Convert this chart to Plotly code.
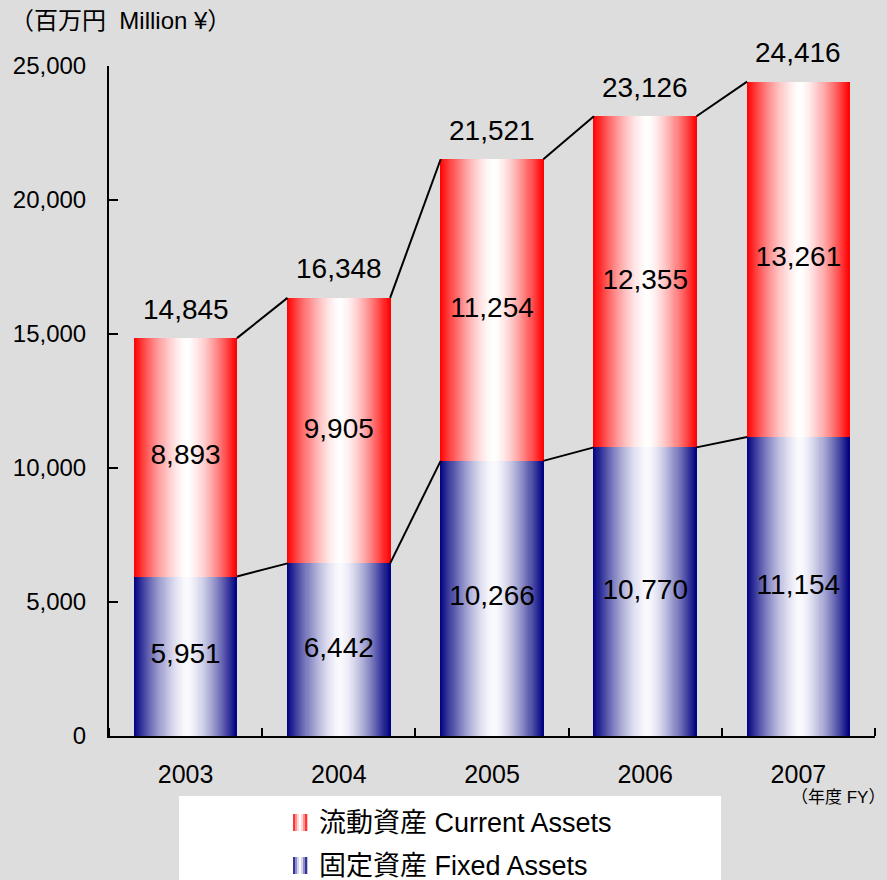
import plotly.graph_objects as go

# --- data ---
YEARS = ["2003", "2004", "2005", "2006", "2007"]
FIXED = [5951, 6442, 10266, 10770, 11154]        # 固定資産 Fixed Assets
CURRENT = [8893, 9905, 11254, 12355, 13261]      # 流動資産 Current Assets
TOTAL = [14845, 16348, 21521, 23126, 24416]
Y_TICKS = [0, 5000, 10000, 15000, 20000, 25000]

FONT = "Liberation Sans, Arial, Noto Sans CJK JP, sans-serif"
BG = "#dddddd"
W, H = 887, 880
L, R, T, B = 109, 12, 66, 144
PW, PH = W - L - R, H - T - B
BW = 0.67          # bar width in category units
N = 100            # gradient slices per bar

NAVY = (0, 0, 128)
RED = (255, 0, 0)
WHITE_N = (250, 250, 254)
WHITE_R = (255, 255, 255)


def mix(c, w, white):
    return "rgb(%d,%d,%d)" % tuple(round(a + (b - a) * w) for a, b in zip(c, white))


def whiteness(t, mid=0.52):
    d = abs(t - mid) / (mid if t < mid else 1 - mid)
    return max(0.0, 1 - d ** 1.5)


def px_x(p):
    return (p - L) / PW


def px_y(p):
    return (H - B - p) / PH


fig = go.Figure()
xs = list(range(len(YEARS)))

# stacked bars as vertical slices to get the horizontal gradient
d = BW / N
for k in range(N):
    t = (k + 0.5) / N
    w = whiteness(t)
    width = d * 1.6 if k < N - 1 else d
    fig.add_trace(go.Bar(
        x=xs + xs, y=FIXED + CURRENT, base=[0] * len(FIXED) + FIXED,
        width=width, offset=-BW / 2 + k * d,
        marker=dict(color=[mix(NAVY, w, WHITE_N)] * len(FIXED) + [mix(RED, w, WHITE_R)] * len(CURRENT),
                    line=dict(width=0)),
        hoverinfo="skip", showlegend=False))


# connector lines between bar corners
def connector(vals):
    lx, ly = [], []
    for i in range(len(vals) - 1):
        lx += [i + BW / 2, i + 1 - BW / 2, None]
        ly += [vals[i], vals[i + 1], None]
    return lx, ly


for vals in (TOTAL, FIXED):
    lx, ly = connector(vals)
    fig.add_trace(go.Scatter(x=lx, y=ly, mode="lines", line=dict(color="black", width=2),
                             hoverinfo="skip", showlegend=False))

fmt = lambda v: f"{v:,}"
lab_font = dict(family=FONT, size=28, color="black")
fig.add_trace(go.Scatter(
    x=xs, y=[f / 2 for f in FIXED], mode="text", text=[fmt(v) for v in FIXED],
    textfont=lab_font, showlegend=False, cliponaxis=False,
    hovertemplate="固定資産 Fixed Assets<br>%{text}<extra></extra>"))
fig.add_trace(go.Scatter(
    x=xs, y=[f + c / 2 for f, c in zip(FIXED, CURRENT)], mode="text", text=[fmt(v) for v in CURRENT],
    textfont=lab_font, showlegend=False, cliponaxis=False,
    hovertemplate="流動資産 Current Assets<br>%{text}<extra></extra>"))
for x, v in zip(xs, TOTAL):
    fig.add_annotation(x=x, y=v, text=fmt(v), showarrow=False, yanchor="middle", yshift=29,
                       font=lab_font)

fig.update_layout(
    width=W, height=H, margin=dict(l=L, r=R, t=T, b=B),
    paper_bgcolor=BG, plot_bgcolor=BG, barmode="overlay", bargap=0,
    font=dict(family=FONT, color="black"),
    title=dict(text="（百万円  Million ¥）", font=dict(size=24, color="black"),
               xref="container", x=10 / W, xanchor="left", yref="container", y=1 - 21 / H, yanchor="middle"),
)
fig.update_xaxes(
    range=[-0.5, len(YEARS) - 0.5], tickmode="array", tickvals=xs, ticktext=YEARS,
    ticks="", tickfont=dict(size=25), ticklabelstandoff=15,
    showline=True, linecolor="black", linewidth=2, showgrid=False, zeroline=False,
    minor=dict(tickmode="linear", tick0=-0.5, dtick=1, ticks="inside", ticklen=8,
               tickwidth=1.5, tickcolor="black", showgrid=False),
)
fig.update_yaxes(
    range=[0, 25000], tickmode="array", tickvals=Y_TICKS, ticktext=[fmt(v) for v in Y_TICKS],
    ticks="inside", ticklen=9, tickwidth=1.5, tickcolor="black", tickfont=dict(size=24),
    ticklabelstandoff=16,
    showline=True, linecolor="black", linewidth=2, showgrid=False, zeroline=False,
)

# unit note under the x axis
fig.add_annotation(text="（年度 FY）", xref="paper", yref="paper", x=px_x(887), y=px_y(797),
                   xanchor="right", yanchor="middle", showarrow=False, font=dict(size=17))

# manual legend with gradient swatches
fig.add_shape(type="rect", xref="paper", yref="paper", x0=px_x(179), x1=px_x(721),
              y0=px_y(796), y1=px_y(890), fillcolor="white", line=dict(width=0), layer="below")
for label, base, white, yc in (("流動資産 Current Assets", RED, WHITE_R, 823),
                               ("固定資産 Fixed Assets", NAVY, WHITE_N, 866)):
    ns = 7
    for k in range(ns):
        t = (k + 0.5) / ns
        fig.add_shape(type="rect", xref="paper", yref="paper",
                      x0=px_x(293 + 14 * k / ns), x1=px_x(293 + 14 * (k + 1) / ns + 0.3),
                      y0=px_y(yc + 8), y1=px_y(yc - 9),
                      fillcolor=mix(base, whiteness(t, 0.5), white), line=dict(width=0))
    fig.add_annotation(text=label, xref="paper", yref="paper", x=px_x(317), y=px_y(yc),
                       xanchor="left", yanchor="middle", showarrow=False, font=dict(size=27))

fig.write_html("out.html", config={"displayModeBar": False},
               post_script="document.body.style.margin='0';")
